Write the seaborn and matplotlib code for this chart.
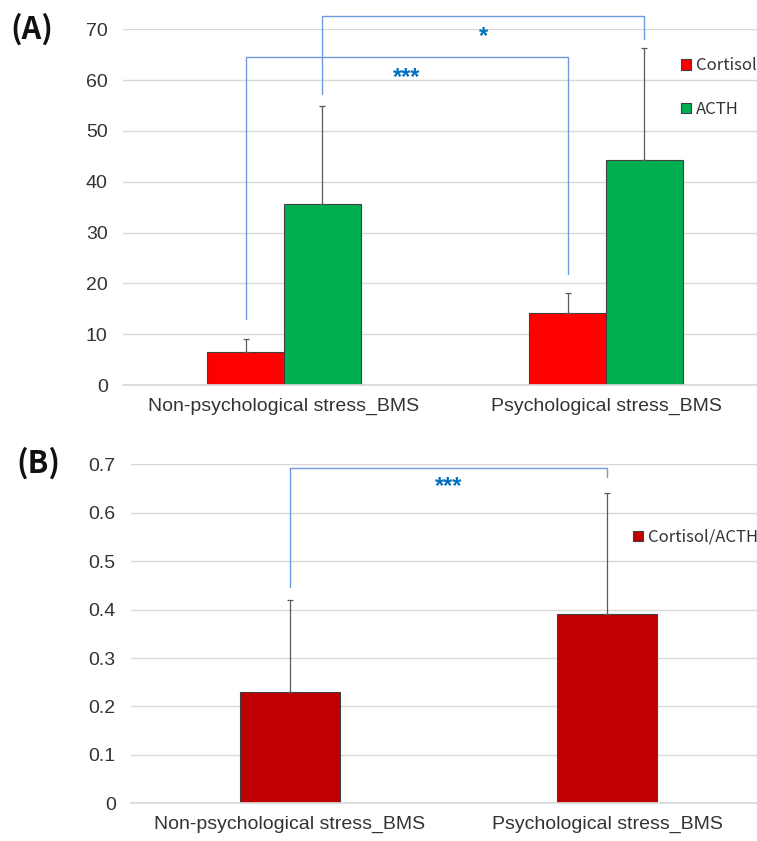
import numpy as np
import pandas as pd
import matplotlib
matplotlib.use("Agg")
import matplotlib.pyplot as plt
import seaborn as sns

# values
groups = ["Non-psychological stress_BMS", "Psychological stress_BMS"]
measures = ["Cortisol", "ACTH"]
cortisol = [6.4, 14.1]
cortisol_sd = [2.6, 4.0]
acth = [35.6, 44.2]
acth_sd = [19.4, 22.1]
ratio = [0.23, 0.39]
ratio_sd = [0.19, 0.25]

# significance brackets: (left foot, top, right foot, label)
bracket_a_cort = [12.9, 64.5, 21.8, "***"]
bracket_a_acth = [57.2, 72.7, 68.1, "*"]
bracket_b = [0.447, 0.692, 0.674, "***"]

sns.set_theme(style="white")
plt.rcParams["font.family"] = ["Liberation Sans", "DejaVu Sans"]

text_col = "#333333"
grid_col = "#D9D9D9"
err_col = "#595959"
br_col = "#6F9AE0"
star_col = "#0070C0"
cjk = ["Noto Sans CJK KR", "DejaVu Sans"]

df_a = pd.DataFrame({
    "group": groups * 2,
    "measure": [measures[0]] * 2 + [measures[1]] * 2,
    "value": cortisol + acth,
})
df_b = pd.DataFrame({"group": groups, "measure": ["Cortisol/ACTH"] * 2, "value": ratio})

fig = plt.figure(figsize=(7.57, 8.41), dpi=100)
ax_a = fig.add_axes([0.1625, 0.5422, 0.8507, 0.4229])
ax_b = fig.add_axes([0.1730, 0.0448, 0.8390, 0.4031])

# --- panel A ---
sns.barplot(data=df_a, x="group", y="value", hue="measure", order=groups,
            hue_order=measures, palette=["#FF0000", "#00B050"], width=0.478,
            saturation=1, edgecolor="#404040", linewidth=0.8, errorbar=None, ax=ax_a)
for cont, sd in zip(ax_a.containers, [cortisol_sd, acth_sd]):
    xs = [b.get_x() + b.get_width() / 2 for b in cont]
    ys = [b.get_height() for b in cont]
    ax_a.errorbar(xs, ys, yerr=[np.zeros(len(sd)), sd], fmt="none",
                  ecolor=err_col, elinewidth=0.9, capsize=2, capthick=0.9)

# --- panel B ---
sns.barplot(data=df_b, x="group", y="value", hue="measure", order=groups,
            palette=["#C00000"], width=0.315, dodge=False, saturation=1,
            edgecolor="#404040", linewidth=0.8, errorbar=None, ax=ax_b)
cont = ax_b.containers[0]
xs = [b.get_x() + b.get_width() / 2 for b in cont]
ys = [b.get_height() for b in cont]
ax_b.errorbar(xs, ys, yerr=[np.zeros(len(ratio_sd)), ratio_sd], fmt="none",
              ecolor=err_col, elinewidth=0.9, capsize=2, capthick=0.9)


def bracket(ax, cont, br, drop):
    x0 = cont[0].get_x() + cont[0].get_width() / 2
    x1 = cont[1].get_x() + cont[1].get_width() / 2
    ax.plot([x0, x0, x1, x1], [br[0], br[1], br[1], br[2]], color=br_col,
            lw=1.0, clip_on=False, zorder=5)
    ax.text((x0 + x1) / 2, br[1] - drop, br[3], color=star_col, fontsize=17,
            fontweight="bold", ha="center", va="baseline", zorder=6)


bracket(ax_a, ax_a.containers[0], bracket_a_cort, 5.2)
bracket(ax_a, ax_a.containers[1], bracket_a_acth, 5.4)
bracket(ax_b, ax_b.containers[0], bracket_b, 0.051)

for ax, top, step in [(ax_a, 70, 10), (ax_b, 0.7, 0.1)]:
    ax.set_xlim(-0.5, 1.5)
    ax.set_ylim(0, top)
    ticks = np.round(np.arange(0, top + step / 2, step), 2)
    ax.set_yticks(ticks)
    ax.set_yticklabels(["{:g}".format(t) for t in ticks])
    ax.yaxis.grid(True, color=grid_col, lw=1.0)
    ax.set_axisbelow(True)
    for s in ["top", "right", "left"]:
        ax.spines[s].set_visible(False)
    ax.spines["bottom"].set_color(grid_col)
    ax.tick_params(axis="both", length=0, labelsize=14, colors=text_col)
    ax.tick_params(axis="y", pad=11)
    ax.tick_params(axis="x", pad=9)
    ax.set_xlabel("")
    ax.set_ylabel("")

leg = ax_a.legend(loc="upper left", bbox_to_anchor=(0.866, 0.922), frameon=False,
                  fontsize=12, handlelength=0.6, handleheight=0.6, borderpad=0,
                  handletextpad=0.3, labelspacing=1.6, borderaxespad=0)
for t in leg.get_texts():
    t.set_color(text_col)
    t.set_family(cjk)

leg = ax_b.legend(loc="upper left", bbox_to_anchor=(0.79, 0.81), frameon=False,
                  fontsize=12, handlelength=0.6, handleheight=0.6, borderpad=0,
                  handletextpad=0.3, borderaxespad=0)
for t in leg.get_texts():
    t.set_color(text_col)
    t.set_family(cjk)

fig.text(0.014, 0.965, "(A)", fontsize=22, fontweight="bold",
         family=cjk, color="#111111", va="center")
fig.text(0.022, 0.449, "(B)", fontsize=22, fontweight="bold",
         family=cjk, color="#111111", va="center")

fig.savefig("out.png", dpi=100, facecolor="white")
